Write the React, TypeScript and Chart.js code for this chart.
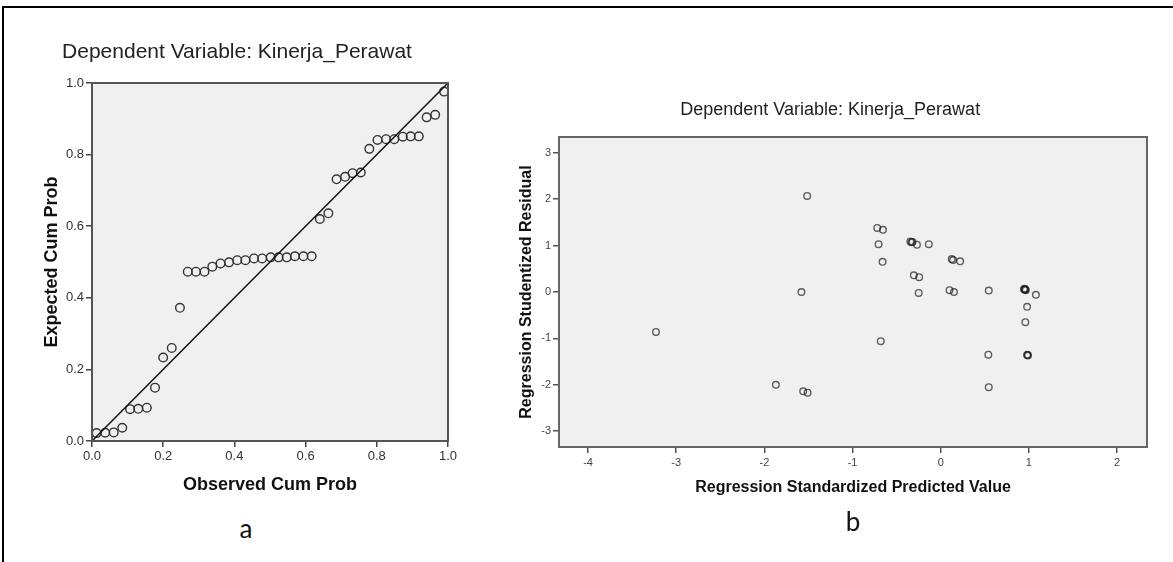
import React, { useEffect, useRef } from "react";
import { Chart, registerables } from "chart.js";

Chart.register(...registerables);

const FONT = '"Liberation Sans", Arial, sans-serif';

// ---- Chart a: Normal P-P plot ----
const ppTitle = "Dependent Variable: Kinerja_Perawat";
const ppObserved = [
  0.013, 0.037, 0.061, 0.085, 0.107, 0.130, 0.154, 0.177, 0.200, 0.224, 0.247,
  0.269, 0.292, 0.316, 0.338, 0.361, 0.385, 0.408, 0.431, 0.455, 0.478, 0.502,
  0.524, 0.547, 0.570, 0.594, 0.617, 0.640, 0.664, 0.687, 0.711, 0.732, 0.755,
  0.779, 0.802, 0.826, 0.849, 0.873, 0.895, 0.918, 0.940, 0.964, 0.989,
];
const ppExpected = [
  0.022, 0.023, 0.024, 0.037, 0.089, 0.090, 0.093, 0.149, 0.233, 0.260, 0.372,
  0.473, 0.473, 0.473, 0.487, 0.496, 0.499, 0.505, 0.505, 0.510, 0.510, 0.513,
  0.513, 0.513, 0.516, 0.516, 0.516, 0.620, 0.636, 0.731, 0.738, 0.748, 0.750,
  0.816, 0.841, 0.843, 0.843, 0.850, 0.851, 0.851, 0.904, 0.911, 0.976,
];
const refLineX = [0, 1];
const refLineY = [0, 1];
const ppTicks = [0, 0.2, 0.4, 0.6, 0.8, 1.0];

// ---- Chart b: residual scatter ----
const scTitle = "Dependent Variable: Kinerja_Perawat";
const predicted = [
  -3.23, -1.87, -1.56, -1.51, -1.58, -1.515, -0.72, -0.655, -0.705, -0.66,
  -0.68, -0.345, -0.33, -0.32, -0.27, -0.135, -0.305, -0.245, -0.25, 0.125,
  0.14, 0.22, 0.1, 0.15, 0.545, 0.54, 0.545, 0.945, 0.955, 0.96, 0.95, 0.965,
  1.08, 0.98, 0.96, 0.98, 0.99, 0.985,
];
const residual = [
  -0.86, -2.0, -2.14, -2.17, 0.0, 2.07, 1.38, 1.34, 1.03, 0.65, -1.06, 1.09,
  1.07, 1.08, 1.02, 1.03, 0.36, 0.32, -0.02, 0.71, 0.69, 0.66, 0.04, 0.0, 0.03,
  -1.35, -2.05, 0.06, 0.05, 0.06, 0.07, 0.04, -0.06, -0.32, -0.65, -1.36,
  -1.37, -1.35,
];
const scXTicks = [-4, -3, -2, -1, 0, 1, 2];
const scYTicks = [-3, -2, -1, 0, 1, 2, 3];

const framePlugin = {
  id: "frame",
  beforeDraw(chart: any, _args: any, opts: any) {
    const { ctx, chartArea: a } = chart;
    ctx.save();
    ctx.fillStyle = opts.bg || "#f0f0f0";
    ctx.fillRect(a.left, a.top, a.right - a.left, a.bottom - a.top);
    ctx.restore();
  },
  afterDraw(chart: any, _args: any, opts: any) {
    const { ctx, chartArea: a } = chart;
    ctx.save();
    ctx.strokeStyle = opts.color || "#555";
    ctx.lineWidth = opts.width || 2;
    ctx.strokeRect(a.left, a.top, a.right - a.left, a.bottom - a.top);
    ctx.restore();
  },
};

function setTicks(values: number[]) {
  return (scale: any) => {
    scale.ticks = values.map((v) => ({ value: v }));
  };
}

function PPChart() {
  const ref = useRef<HTMLCanvasElement | null>(null);
  useEffect(() => {
    if (!ref.current) return;
    const chart = new Chart(ref.current, {
      type: "scatter",
      data: {
        datasets: [
          {
            type: "line",
            data: refLineX.map((x, i) => ({ x, y: refLineY[i] })),
            borderColor: "#111",
            borderWidth: 1.5,
            pointRadius: 0,
            fill: false,
          } as any,
          {
            data: ppObserved.map((x, i) => ({ x, y: ppExpected[i] })),
            pointRadius: 4.3,
            pointBorderWidth: 1.4,
            pointBorderColor: "#333",
            pointBackgroundColor: "rgba(0,0,0,0)",
          },
        ],
      },
      options: {
        animation: false,
        responsive: false,
        layout: { padding: { left: 26, right: 32, top: 10, bottom: 10 } },
        plugins: {
          legend: { display: false },
          tooltip: { enabled: false },
          title: {
            display: true,
            text: ppTitle,
            color: "#222",
            font: { family: FONT, size: 21, weight: "normal" },
            padding: { top: 29.4, bottom: 18.4 },
          },
          frame: { bg: "#f0f0f0", color: "#555", width: 2 },
        } as any,
        scales: {
          x: {
            type: "linear",
            min: 0,
            max: 1,
            afterBuildTicks: setTicks(ppTicks),
            afterFit: (s: any) => {
              s.height = 59;
            },
            border: { display: false },
            grid: { drawOnChartArea: false, tickLength: 6, color: "#444", lineWidth: 1.5 },
            ticks: {
              color: "#333",
              padding: 2,
              maxRotation: 0,
              font: { family: FONT, size: 13 },
              callback: (v: any) => Number(v).toFixed(1),
            },
            title: {
              display: true,
              text: "Observed Cum Prob",
              color: "#111",
              font: { family: FONT, size: 18, weight: "bold" },
              padding: { top: 4, bottom: 4 },
            },
          },
          y: {
            type: "linear",
            min: 0,
            max: 1,
            afterBuildTicks: setTicks(ppTicks),
            afterFit: (s: any) => {
              s.width = 66;
            },
            border: { display: false },
            grid: { drawOnChartArea: false, tickLength: 6, color: "#444", lineWidth: 1.5 },
            ticks: {
              color: "#333",
              padding: 2,
              font: { family: FONT, size: 13 },
              callback: (v: any) => Number(v).toFixed(1),
            },
            title: {
              display: true,
              text: "Expected Cum Prob",
              color: "#111",
              font: { family: FONT, size: 18, weight: "bold" },
              padding: { top: 15.2, bottom: 4 },
            },
          },
        },
      } as any,
      plugins: [framePlugin],
    });
    return () => chart.destroy();
  }, []);
  return (
    <canvas
      ref={ref}
      width={480}
      height={510}
      style={{ position: "absolute", left: 0, top: 0, width: 480, height: 510 }}
    />
  );
}

function ScatterChart() {
  const ref = useRef<HTMLCanvasElement | null>(null);
  useEffect(() => {
    if (!ref.current) return;
    const chart = new Chart(ref.current, {
      type: "scatter",
      data: {
        datasets: [
          {
            data: predicted.map((x, i) => ({ x, y: residual[i] })),
            pointRadius: 3.3,
            pointBorderWidth: 1.4,
            pointBorderColor: "rgba(30,30,30,0.7)",
            pointBackgroundColor: "rgba(0,0,0,0)",
          },
        ],
      },
      options: {
        animation: false,
        responsive: false,
        layout: { padding: { left: 23.4, right: 26, top: 4, bottom: 6.4 } },
        plugins: {
          legend: { display: false },
          tooltip: { enabled: false },
          title: {
            display: true,
            text: scTitle,
            color: "#222",
            font: { family: FONT, size: 18, weight: "normal" },
            padding: { top: 7.2, bottom: 16.2 },
          },
          frame: { bg: "#f0f0f0", color: "#666", width: 2 },
        } as any,
        scales: {
          x: {
            type: "linear",
            min: -4.33,
            max: 2.34,
            afterBuildTicks: setTicks(scXTicks),
            afterFit: (s: any) => {
              s.height = 54.6;
            },
            border: { display: false },
            grid: { drawOnChartArea: false, tickLength: 6, color: "#555", lineWidth: 1.5 },
            ticks: {
              color: "#444",
              padding: 3,
              maxRotation: 0,
              font: { family: FONT, size: 11 },
              callback: (v: any) => String(Math.round(Number(v))),
            },
            title: {
              display: true,
              text: "Regression Standardized Predicted Value",
              color: "#111",
              font: { family: FONT, size: 16, weight: "bold" },
              padding: { top: 4, bottom: 4 },
            },
          },
          y: {
            type: "linear",
            min: -3.34,
            max: 3.34,
            afterBuildTicks: setTicks(scYTicks),
            afterFit: (s: any) => {
              s.width = 45.6;
            },
            border: { display: false },
            grid: { drawOnChartArea: false, tickLength: 6, color: "#555", lineWidth: 1.5 },
            ticks: {
              color: "#444",
              padding: 2,
              font: { family: FONT, size: 11 },
              callback: (v: any) => String(Math.round(Number(v))),
            },
            title: {
              display: true,
              text: "Regression Studentized Residual",
              color: "#111",
              font: { family: FONT, size: 16, weight: "bold" },
              padding: { top: 4, bottom: 4 },
            },
          },
        },
      } as any,
      plugins: [framePlugin],
    });
    return () => chart.destroy();
  }, []);
  return (
    <canvas
      ref={ref}
      width={683}
      height={420}
      style={{ position: "absolute", left: 490, top: 88, width: 683, height: 420 }}
    />
  );
}

export default function App() {
  return (
    <div
      style={{
        position: "absolute",
        left: 0,
        top: 0,
        width: 1173,
        height: 562,
        background: "#fff",
        overflow: "hidden",
      }}
    >
      <div
        style={{
          position: "absolute",
          left: 2,
          top: 6,
          width: 1200,
          height: 600,
          borderTop: "2px solid #000",
          borderLeft: "2px solid #000",
        }}
      />
      <PPChart />
      <ScatterChart />
      <div
        style={{
          position: "absolute",
          left: 246,
          top: 528,
          transform: "translate(-50%, -50%)",
          fontFamily: "Lato, 'Open Sans', sans-serif",
          fontSize: 26,
          color: "#111",
        }}
      >
        a
      </div>
      <div
        style={{
          position: "absolute",
          left: 853,
          top: 521,
          transform: "translate(-50%, -50%)",
          fontFamily: "Lato, 'Open Sans', sans-serif",
          fontSize: 26,
          color: "#111",
        }}
      >
        b
      </div>
    </div>
  );
}
